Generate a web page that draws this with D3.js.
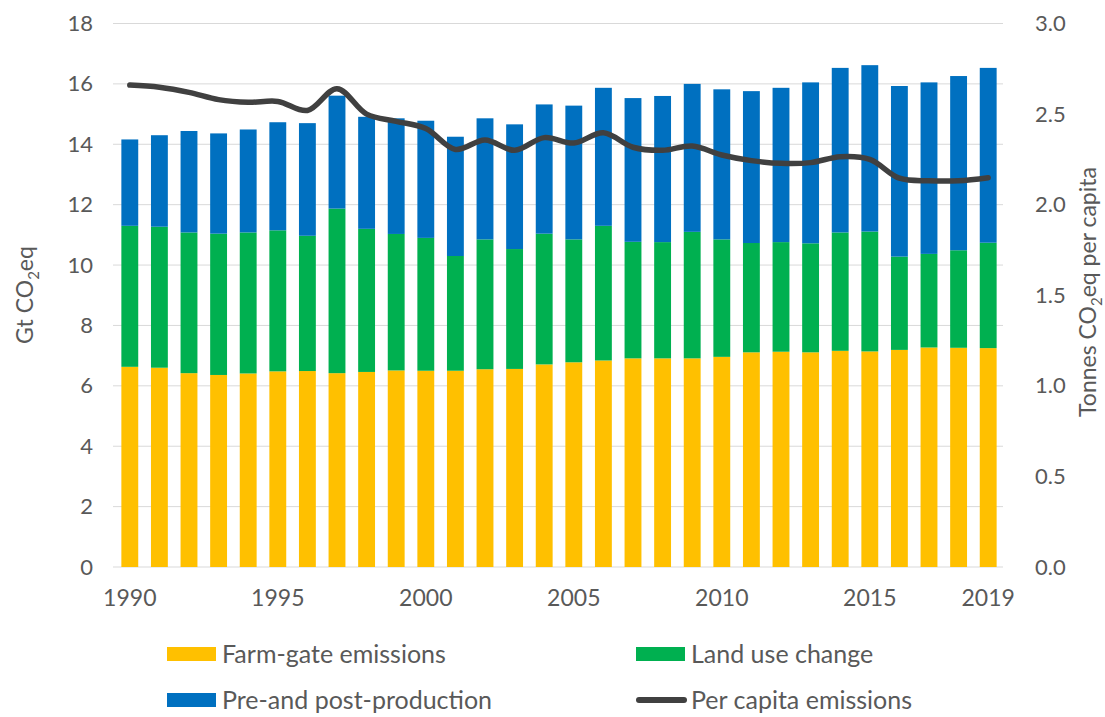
<!DOCTYPE html>
<html>
<head>
<meta charset="utf-8">
<script src="https://cdn.jsdelivr.net/npm/d3@7"></script>
<style>
  html, body { margin: 0; padding: 0; background: #fff; }
  svg { display: block; font-family: Lato, "Open Sans", sans-serif; }
</style>
</head>
<body>
<svg id="chart" width="1105" height="717"></svg>
<script>
const years = d3.range(1990, 2020);
const farmGate = [6.63,6.60,6.42,6.36,6.41,6.48,6.49,6.42,6.46,6.51,6.50,6.50,6.55,6.56,6.71,6.78,6.84,6.91,6.91,6.91,6.96,7.11,7.13,7.11,7.16,7.14,7.19,7.27,7.26,7.25];
const landUse = [4.67,4.67,4.66,4.68,4.67,4.67,4.48,5.45,4.74,4.52,4.40,3.80,4.30,3.97,4.33,4.07,4.46,3.86,3.85,4.19,3.89,3.62,3.63,3.61,3.92,3.97,3.09,3.10,3.23,3.49];
const prePost = [2.86,3.03,3.36,3.32,3.41,3.58,3.73,3.74,3.71,3.83,3.88,3.95,4.01,4.13,4.28,4.43,4.57,4.76,4.84,4.90,4.97,5.03,5.11,5.33,5.45,5.51,5.65,5.68,5.77,5.79];
const perCapita = [2.66,2.648,2.62,2.58,2.565,2.57,2.52,2.64,2.50,2.46,2.42,2.305,2.357,2.30,2.37,2.34,2.397,2.317,2.30,2.324,2.274,2.243,2.228,2.232,2.265,2.25,2.146,2.132,2.132,2.149];
const leftTicks = [0,2,4,6,8,10,12,14,16,18];
const rightTicks = [0,0.5,1.0,1.5,2.0,2.5,3.0];
const xTickYears = [1990,1995,2000,2005,2010,2015,2019];
const seriesNames = ["Farm-gate emissions","Land use change","Pre-and post-production","Per capita emissions"];

const colors = { farm: "#FFC000", land: "#00B050", pre: "#0070C0", line: "#404040" };
const textColor = "#595959";

const svg = d3.select("#chart");
const L = 115, R = 1003, T = 23.5, B = 567;

const x = d3.scaleBand().domain(years).range([L, R]).paddingInner(0.43).paddingOuter(0.215);
const yL = d3.scaleLinear().domain([0, 18]).range([B, T]);
const yR = d3.scaleLinear().domain([0, 3]).range([B, T]);

// gridlines
svg.append("g").selectAll("line").data(leftTicks).join("line")
  .attr("x1", L - 2).attr("x2", R)
  .attr("y1", d => yL(d)).attr("y2", d => yL(d))
  .attr("stroke", "#d9d9d9").attr("stroke-width", 1);

// stacked bars
const rows = years.map((yr, i) => ({ year: yr, farm: farmGate[i], land: landUse[i], pre: prePost[i] }));
const stack = d3.stack().keys(["farm", "land", "pre"])(rows);
svg.append("g").selectAll("g").data(stack).join("g")
  .attr("fill", d => colors[d.key])
  .selectAll("rect").data(d => d).join("rect")
  .attr("x", d => x(d.data.year))
  .attr("width", x.bandwidth())
  .attr("y", d => yL(d[1]))
  .attr("height", d => yL(d[0]) - yL(d[1]));

// line
const line = d3.line()
  .x((d, i) => x(years[i]) + x.bandwidth() / 2)
  .y(d => yR(d))
  .curve(d3.curveCatmullRom.alpha(0.5));
svg.append("path").datum(perCapita)
  .attr("d", line)
  .attr("fill", "none").attr("stroke", colors.line)
  .attr("stroke-width", 5.5).attr("stroke-linejoin", "round").attr("stroke-linecap", "round");

// left axis
const leftAxis = d3.axisLeft(yL).tickValues(leftTicks).tickSize(0).tickPadding(0).tickFormat(d3.format("d"));
const gL = svg.append("g").attr("transform", `translate(${L - 22},0)`).call(leftAxis);
gL.select(".domain").remove();
gL.selectAll("text").attr("fill", textColor).attr("font-size", 22).attr("font-family", "Lato, sans-serif");

// right axis
const rightAxis = d3.axisRight(yR).tickValues(rightTicks).tickSize(0).tickPadding(0).tickFormat(d3.format(".1f"));
const gR = svg.append("g").attr("transform", `translate(${R + 32},0)`).call(rightAxis);
gR.select(".domain").remove();
gR.selectAll("text").attr("fill", textColor).attr("font-size", 22).attr("font-family", "Lato, sans-serif");

// bottom axis
const bottomAxis = d3.axisBottom(x).tickValues(xTickYears).tickSize(0).tickPadding(0);
const gB = svg.append("g").attr("transform", `translate(0,${B + 23})`).call(bottomAxis);
gB.select(".domain").remove();
gB.selectAll("text").attr("fill", textColor).attr("font-size", 23).attr("font-family", "Lato, sans-serif");

// axis titles
function co2Title(g, pre, post) {
  const t = g.append("text").attr("fill", textColor).attr("font-size", 23).attr("text-anchor", "middle");
  t.append("tspan").text(pre + "CO");
  t.append("tspan").text("2").attr("font-size", 15).attr("dy", 6);
  t.append("tspan").text(post).attr("dy", -6);
  return t;
}
co2Title(svg.append("g").attr("transform", `translate(33,295) rotate(-90)`), "Gt ", "eq");
co2Title(svg.append("g").attr("transform", `translate(1096,292) rotate(-90)`), "Tonnes ", "eq per capita");

// legend
const legend = [
  { name: seriesNames[0], type: "rect", color: colors.farm, x: 167, y: 654 },
  { name: seriesNames[1], type: "rect", color: colors.land, x: 636, y: 654 },
  { name: seriesNames[2], type: "rect", color: colors.pre, x: 167, y: 700 },
  { name: seriesNames[3], type: "line", color: colors.line, x: 636, y: 700 }
];
const lg = svg.append("g").selectAll("g").data(legend).join("g")
  .attr("transform", d => `translate(${d.x},${d.y})`);
lg.filter(d => d.type === "rect").append("rect")
  .attr("x", 0).attr("y", -7).attr("width", 49).attr("height", 14).attr("fill", d => d.color);
lg.filter(d => d.type === "line").append("line")
  .attr("x1", 3).attr("x2", 48).attr("y1", 0).attr("y2", 0)
  .attr("stroke", d => d.color).attr("stroke-width", 6).attr("stroke-linecap", "round");
lg.append("text").attr("x", 55).attr("y", 0).attr("dy", "0.35em")
  .attr("fill", textColor).attr("font-size", 25).text(d => d.name);
</script>
</body>
</html>
